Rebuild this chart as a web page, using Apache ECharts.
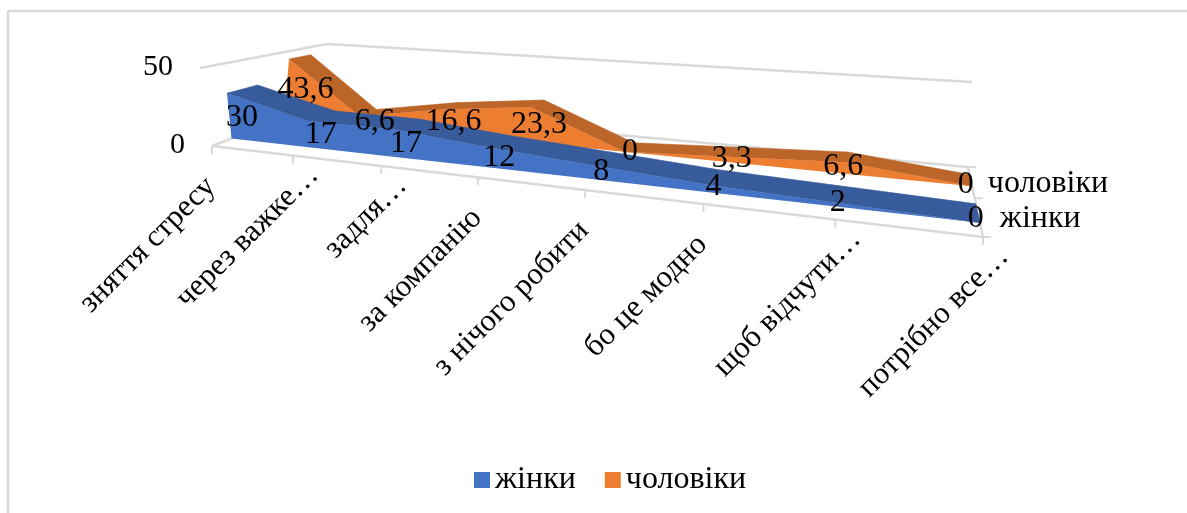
<!DOCTYPE html>
<html>
<head>
<meta charset="utf-8">
<style>html,body{margin:0;padding:0;background:#fff}#c{width:1187px;height:513px}</style>
<script src="https://cdn.jsdelivr.net/npm/echarts@6/dist/echarts.min.js"></script>
</head>
<body>
<div id="c"></div>
<script>
const categories = ['зняття стресу','через важке…','задля…','за компанію','з нічого робити','бо це модно','щоб відчути…','потрібно все…'];
const women = [30,17,17,12,8,4,2,0];
const men = [43.6,6.6,16.6,23.3,0,3.3,6.6,0];
const womenLabels = ['30','17','17','12','8','4','2','0'];
const menLabels = ['43,6','6,6','16,6','23,3','0','3,3','6,6','0'];
const yTicks = [0,50];
const FONT = '"Liberation Serif","Times New Roman",serif';

// perspective floor: corners in pixels; u along categories, t in depth
const F0=[212,146],F1=[983,237],B1=[968,167],B0=[313,107];
// vector from floor to the 50 level at each corner
const dF0=[-12,-78],dF1=[0,-100],dB0=[14,-63],dB1=[4,-85];
const det=(F1[0]-B1[0])*(B0[1]-B1[1])-(B0[0]-B1[0])*(F1[1]-B1[1]);
const sx=F0[0]-F1[0]+B1[0]-B0[0], sy=F0[1]-F1[1]+B1[1]-B0[1];
const g=(sx*(B0[1]-B1[1])-(B0[0]-B1[0])*sy)/det;
const h=((F1[0]-B1[0])*sy-sx*(F1[1]-B1[1]))/det;
function floorPt(u,t){
  const w=1+g*u+h*t;
  return [(F0[0]+(F1[0]*(1+g)-F0[0])*u+(B0[0]*(1+h)-F0[0])*t)/w,
          (F0[1]+(F1[1]*(1+g)-F0[1])*u+(B0[1]*(1+h)-F0[1])*t)/w];
}
function lerp(a,b,k){return a+(b-a)*k}
function project(u,t,level){
  const f=floorPt(u,t), l=floorPt(0,t), r=floorPt(1,t);
  const s=(f[0]-l[0])/(r[0]-l[0]);
  const dx=lerp(lerp(dF0[0],dF1[0],s),lerp(dB0[0],dB1[0],s),t);
  const dy=lerp(lerp(dF0[1],dF1[1],s),lerp(dB0[1],dB1[1],s),t);
  return [f[0]+dx*level,f[1]+dy*level];
}
// library scale -> normalised (u, level) -> projected pixel
function at(api,params,i,v,t){
  const c=api.coord([i,v]), cs=params.coordSys;
  return project((c[0]-cs.x)/cs.width, t, (cs.y+cs.height-c[1])/cs.height);
}
const BLUE_T=[0.17,0.42], ORANGE_T=[0.68,0.87];

function ribbon(vals,T,front,top){
  return function(params,api){
    if(params.dataIndex!==0) return null;
    const kids=[];
    for(let i=0;i<vals.length-1;i++){
      kids.push({type:'polygon',shape:{points:[at(api,params,i,vals[i],T[0]),at(api,params,i+1,vals[i+1],T[0]),at(api,params,i+1,vals[i+1],T[1]),at(api,params,i,vals[i],T[1])]},
        style:{fill:top,stroke:top,lineWidth:0.6}});
    }
    const pts=[];
    vals.forEach((v,i)=>pts.push(at(api,params,i,v,T[0])));
    for(let i=vals.length-1;i>=0;i--) pts.push(at(api,params,i,0,T[0]));
    kids.push({type:'polygon',shape:{points:pts},style:{fill:front}});
    return {type:'group',children:kids};
  };
}
const wallColor='#D9D9D9';
function seg(a,b,w){return {type:'line',shape:{x1:a[0],y1:a[1],x2:b[0],y2:b[1]},style:{stroke:wallColor,lineWidth:w||2.5,fill:null}};}
function frame(params,api){
  const n=categories.length-1, top=yTicks[1];
  const kids=[
    seg(at(api,params,0,top,0),at(api,params,0,top,1)),
    seg(at(api,params,0,top,1),at(api,params,n,top,1)),
    seg(at(api,params,0,0,0),at(api,params,n,0,0)),
    seg(at(api,params,0,0,1),at(api,params,n,0,1)),
    seg(at(api,params,0,0,0),at(api,params,0,0,1)),
    seg(at(api,params,n,0,0),at(api,params,n,0,1))
  ];
  categories.forEach((c,i)=>{
    const p=at(api,params,i,0,0);
    kids.push(seg(p,[p[0],p[1]+8],2));
  });
  [0,0.5,1].forEach(t=>{
    const p=at(api,params,n,0,t);
    kids.push(seg(p,[p[0]+8,p[1]],2));
  });
  return {type:'group',children:kids};
}
function txt(text,x,y,size,align,rot){
  return {type:'text',x:x,y:y,rotation:rot||0,style:{text:text,fontFamily:FONT,fontSize:size,fill:'#000',align:align||'center',verticalAlign:'middle'}};
}
function labels(params,api){
  const n=categories.length-1, kids=[];
  yTicks.forEach(v=>{
    const p=at(api,params,0,v,0);
    kids.push(txt(String(v),p[0]-27,p[1]-1,30,'right'));
  });
  men.forEach((v,i)=>{
    const p=at(api,params,i,v/2,(ORANGE_T[0]+ORANGE_T[1])/2);
    kids.push(txt(menLabels[i],p[0]+9-2*i,p[1]+4,32));
  });
  women.forEach((v,i)=>{
    const p=at(api,params,i,v/2,(BLUE_T[0]+BLUE_T[1])/2);
    kids.push(txt(womenLabels[i],p[0]-2,p[1]+6,32));
  });
  categories.forEach((c,i)=>{
    const p=at(api,params,i,0,0);
    const e=c.endsWith('…');
    kids.push(txt(c,p[0]+(e?21:-1),p[1]+(e?15:36),31,'right',Math.PI/4));
  });
  const a=at(api,params,n,0,(ORANGE_T[0]+ORANGE_T[1])/2), b=at(api,params,n,0,(BLUE_T[0]+BLUE_T[1])/2);
  kids.push(txt('чоловіки',a[0]+17,a[1]+3,32,'left'));
  kids.push(txt('жінки',b[0]+22,b[1]+6,32,'left'));
  return {type:'group',children:kids};
}
const chart=echarts.init(document.getElementById('c'),null,{renderer:'canvas'});
chart.setOption({
  animation:false,
  backgroundColor:'#fff',
  grid:{left:212,top:68,width:771,height:78,containLabel:false},
  xAxis:{type:'category',data:categories,boundaryGap:false,show:false},
  yAxis:{type:'value',min:yTicks[0],max:yTicks[1],interval:50,show:false},
  legend:{data:['жінки','чоловіки'],left:469,top:459,itemWidth:16,itemHeight:16,itemGap:29,icon:'rect',
    textStyle:{fontFamily:FONT,fontSize:32,color:'#000'}},
  graphic:[
    {type:'line',shape:{x1:8,y1:11,x2:1187,y2:11},style:{stroke:wallColor,lineWidth:2.5}},
    {type:'line',shape:{x1:8,y1:11,x2:8,y2:513},style:{stroke:wallColor,lineWidth:2.5}}
  ],
  series:[
    {type:'custom',name:'frame',coordinateSystem:'cartesian2d',renderItem:frame,data:[[0,0]],z:1,clip:false,silent:true},
    {type:'custom',name:'чоловіки',coordinateSystem:'cartesian2d',renderItem:ribbon(men,ORANGE_T,'#ED7D31','#BC6528'),data:men.map((v,i)=>[i,v]),itemStyle:{color:'#ED7D31'},z:2,clip:false},
    {type:'custom',name:'жінки',coordinateSystem:'cartesian2d',renderItem:ribbon(women,BLUE_T,'#4472C4','#375B9B'),data:women.map((v,i)=>[i,v]),itemStyle:{color:'#4472C4'},z:3,clip:false},
    {type:'custom',name:'labels',coordinateSystem:'cartesian2d',renderItem:labels,data:[[0,0]],z:4,clip:false,silent:true}
  ]
});
</script>
</body>
</html>
